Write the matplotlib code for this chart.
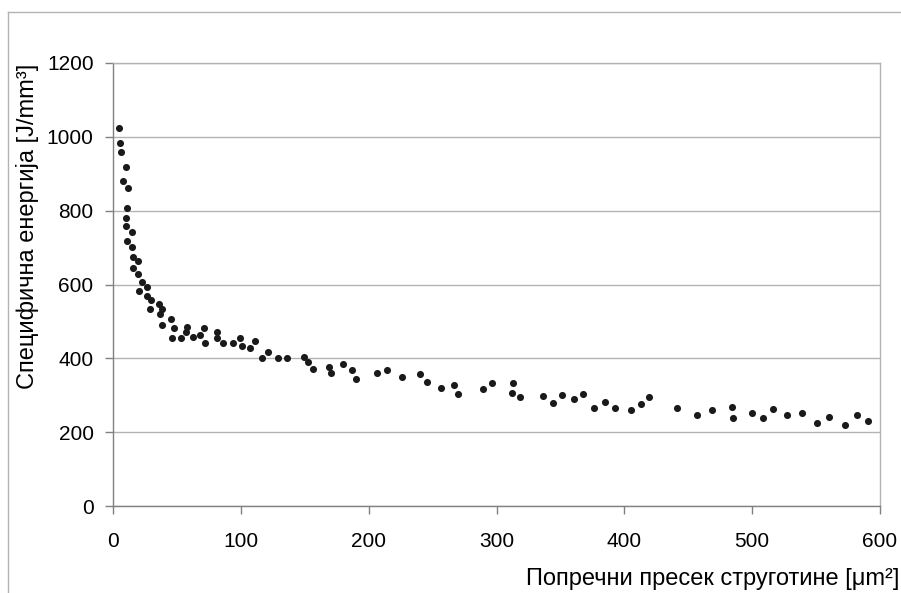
import matplotlib
matplotlib.use("Agg")
import matplotlib.pyplot as plt
from matplotlib.lines import Line2D

plt.rcParams['font.family'] = ['Liberation Sans', 'DejaVu Sans']

# Cross-section of chip [µm²]
area = [4.9, 5.7, 6.3, 9.9, 7.8, 12.0, 10.7, 10.2, 10.2, 14.6, 10.7, 14.6, 15.9, 19.6,
        15.4, 19.6, 22.4, 26.3, 20.1, 26.3, 29.4, 35.7, 38.1, 28.9, 36.8, 45.4, 38.1,
        47.7, 57.6, 46.4, 53.0, 57.1, 62.8, 68.1, 71.4, 72.2, 81.6, 81.1,
        86.3, 93.6, 99.4, 100.7, 107.2, 111.1, 116.6, 121.0, 129.3, 136.4,
        149.4, 152.8, 156.7, 169.0, 170.5, 180.2, 186.7, 190.0, 206.8, 214.1,
        226.1, 240.4, 245.9, 256.3, 266.5, 270.1,
        289.7, 296.2, 313.2, 311.9, 318.6, 336.6, 344.5, 351.3, 360.4, 367.7,
        376.0, 385.1, 392.9, 405.2, 412.8, 419.6,
        441.0, 456.6, 468.6, 484.5, 485.0, 499.6, 508.5, 516.1, 527.3, 538.7,
        550.7, 559.9, 572.4, 582.3, 590.9]
# Specific energy [J/mm³]
energy = [1023, 982, 960, 919, 881, 861, 806, 779, 759, 743, 718, 702, 675, 663,
          646, 629, 607, 592, 582, 569, 558, 546, 533, 533, 520, 506, 490,
          481, 486, 456, 456, 471, 458, 463, 483, 442, 472, 454,
          441, 442, 455, 433, 428, 446, 402, 416, 400, 402,
          403, 389, 371, 377, 360, 386, 369, 345, 360, 368,
          349, 358, 337, 319, 327, 303,
          316, 332, 332, 307, 295, 299, 280, 302, 290, 304,
          266, 282, 266, 261, 276, 296,
          266, 246, 259, 267, 238, 253, 238, 262, 247, 252,
          226, 240, 219, 246, 230]

xticks = [0, 100, 200, 300, 400, 500, 600]
yticks = [0, 200, 400, 600, 800, 1000, 1200]

fig = plt.figure(figsize=(9.01, 5.93), dpi=100)
ax = fig.add_axes([113/901, 1-506/593, (880-113)/901, (506-63)/593])

ax.scatter(area, energy, s=26, color='#1a1a1a', linewidths=0, zorder=3)

ax.set_xlim(0, 600)
ax.set_ylim(0, 1200)
ax.set_xticks(xticks)
ax.set_yticks(yticks)
ax.yaxis.grid(True, color='#b3b3b3', linewidth=1)
ax.set_axisbelow(True)

for side in ['top', 'right']:
    ax.spines[side].set_color('#b3b3b3')
for side in ['left', 'bottom']:
    ax.spines[side].set_color('#808080')
for sp in ax.spines.values():
    sp.set_linewidth(1)

ax.tick_params(axis='both', direction='out', length=6, width=1, color='#808080',
               labelsize=15, labelcolor='black')
ax.tick_params(axis='x', pad=13)
ax.tick_params(axis='y', pad=8)

fig.text(28/901, 1-226/593, 'Специфична енергија [J/mm³]', rotation=90,
         ha='center', va='center', fontsize=17)
fig.text(899/901, 1-579/593, 'Попречни пресек струготине [μm²]',
         ha='right', va='center', fontsize=17)

# outer frame
fig.add_artist(Line2D([8/901, 1], [1-12/593, 1-12/593], transform=fig.transFigure,
                      color='#b3b3b3', linewidth=1))
fig.add_artist(Line2D([8/901, 8/901], [0, 1-12/593], transform=fig.transFigure,
                      color='#b3b3b3', linewidth=1))

fig.savefig('out.png', dpi=100)
